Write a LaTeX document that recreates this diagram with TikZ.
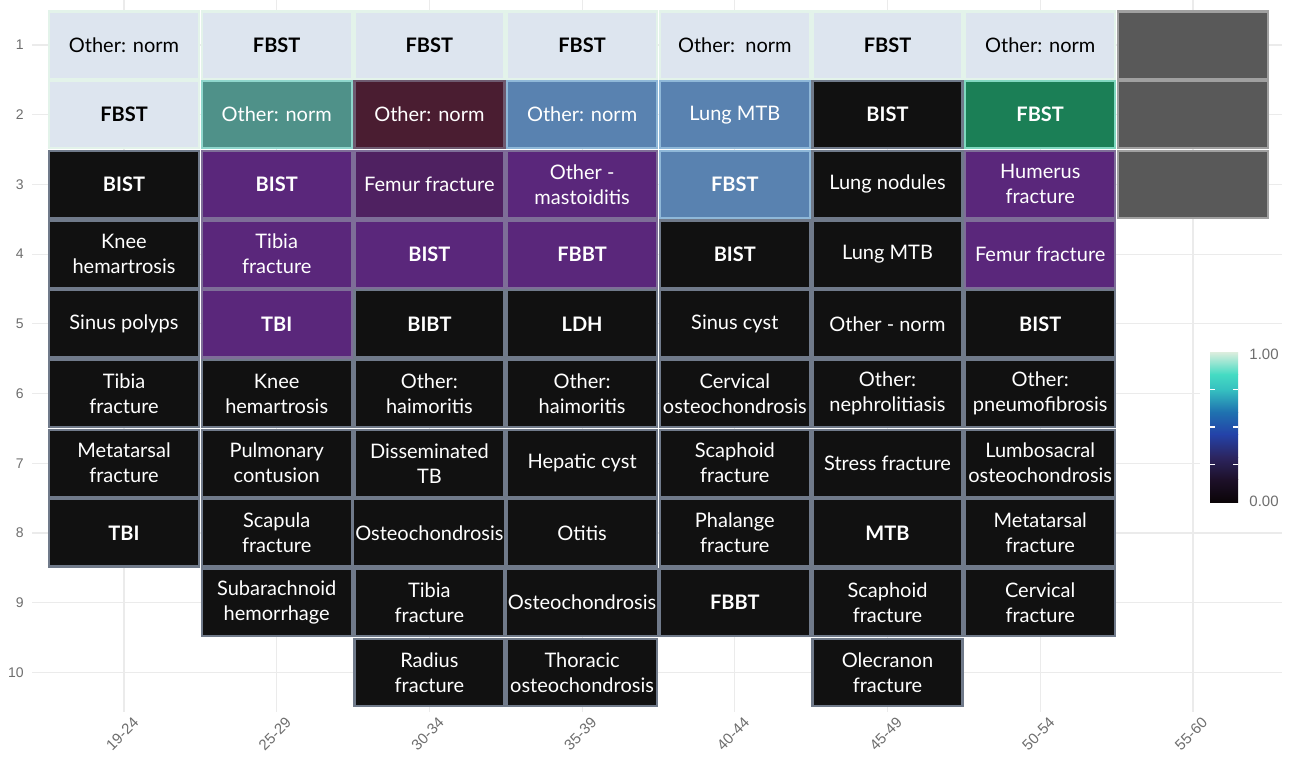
\documentclass[tikz,border=0pt]{standalone}
\usepackage{fontspec}
\setmainfont{Lato}
\setsansfont{Liberation Sans}
\definecolor{cLight}{HTML}{DDE5EF}
\definecolor{bLight}{HTML}{E3F3EA}
\definecolor{cTeal}{HTML}{4F9189}
\definecolor{bTeal}{HTML}{8FD6CC}
\definecolor{cMaroon}{HTML}{4A1D31}
\definecolor{bMaroon}{HTML}{6E5A70}
\definecolor{cSteel}{HTML}{5982B0}
\definecolor{bSteel}{HTML}{8FB8D8}
\definecolor{cBlack}{HTML}{111111}
\definecolor{bBlack}{HTML}{707A8A}
\definecolor{cGreen}{HTML}{1B7F56}
\definecolor{bGreen}{HTML}{80D8C0}
\definecolor{cPurple}{HTML}{5A277B}
\definecolor{bPurple}{HTML}{7E6E98}
\definecolor{cPlum}{HTML}{4F2161}
\definecolor{cGray}{HTML}{595959}
\definecolor{bGray}{HTML}{A0A0A0}
\definecolor{gridc}{HTML}{EBEBEB}
\definecolor{axc}{HTML}{6E6E6E}
\definecolor{s0}{HTML}{0B0508}
\definecolor{s1}{HTML}{1D1029}
\definecolor{s2}{HTML}{2C2560}
\definecolor{s3}{HTML}{2442A8}
\definecolor{s4}{HTML}{1F72B0}
\definecolor{s5}{HTML}{35C0C0}
\definecolor{s6}{HTML}{45DBC3}
\definecolor{s7}{HTML}{DDEEDE}
\newcommand\tile[4]{\node[tilebase,#3] (r#1c#2) at ({124+152.7*(#2-1)},{45+69.7*(#1-1)}) {#4};}
\begin{document}
\begin{tikzpicture}[x=0.5pt,y=-0.5pt,
  tilebase/.style={rectangle, minimum width=75pt, minimum height=33.6pt, inner sep=1pt,
    line width=1.1pt, align=center, font=\fontsize{10}{12.5}\selectfont, text=white},
  tLight/.style={fill=cLight, draw=bLight, text=black},
  tTeal/.style={fill=cTeal, draw=bTeal},
  tMaroon/.style={fill=cMaroon, draw=bMaroon},
  tSteel/.style={fill=cSteel, draw=bSteel},
  tBlack/.style={fill=cBlack, draw=bBlack},
  tGreen/.style={fill=cGreen, draw=bGreen},
  tPurple/.style={fill=cPurple, draw=bPurple},
  tPlum/.style={fill=cPlum, draw=bPurple},
  tGray/.style={fill=cGray, draw=bGray},
  gridline/.style={draw=gridc, line width=0.6pt},
  ylab/.style={font=\sffamily\fontsize{7}{8}\selectfont, text=axc, anchor=east, inner sep=0pt},
  xlab/.style={font=\sffamily\fontsize{7.5}{8}\selectfont, text=axc, rotate=45, anchor=north east, inner sep=0pt},
  leglab/.style={font=\sffamily\fontsize{7.5}{8}\selectfont, text=axc, anchor=west, inner sep=0pt},
  cbtick/.style={draw=white, line width=0.6pt}
]
\useasboundingbox (0,0) rectangle (1291,762);
\fill[white] (0,0) rectangle (1291,762);
% grid
\foreach \c in {1,...,8} \draw[gridline] ({124+152.7*(\c-1)},0) -- ({124+152.7*(\c-1)},712);
\foreach \r in {1,...,10} \draw[gridline] (32,{45+69.7*(\r-1)}) -- (1282,{45+69.7*(\r-1)});
% row 1
\tile{1}{1}{tLight}{Other: norm}
\tile{1}{2}{tLight}{\textbf{FBST}}
\tile{1}{3}{tLight}{\textbf{FBST}}
\tile{1}{4}{tLight}{\textbf{FBST}}
\tile{1}{5}{tLight}{Other:\ \ norm}
\tile{1}{6}{tLight}{\textbf{FBST}}
\tile{1}{7}{tLight}{Other: norm}
\tile{1}{8}{tGray}{}
% row 2
\tile{2}{1}{tLight}{\textbf{FBST}}
\tile{2}{2}{tTeal}{Other: norm}
\tile{2}{3}{tMaroon}{Other: norm}
\tile{2}{4}{tSteel}{Other: norm}
\tile{2}{5}{tSteel}{Lung MTB}
\tile{2}{6}{tBlack}{\textbf{BIST}}
\tile{2}{7}{tGreen}{\textbf{FBST}}
\tile{2}{8}{tGray}{}
% row 3
\tile{3}{1}{tBlack}{\textbf{BIST}}
\tile{3}{2}{tPurple}{\textbf{BIST}}
\tile{3}{3}{tPlum}{Femur fracture}
\tile{3}{4}{tPurple}{Other -\\mastoiditis}
\tile{3}{5}{tSteel}{\textbf{FBST}}
\tile{3}{6}{tBlack}{Lung nodules}
\tile{3}{7}{tPurple}{Humerus\\fracture}
\tile{3}{8}{tGray}{}
% row 4
\tile{4}{1}{tBlack}{Knee\\hemartrosis}
\tile{4}{2}{tPurple}{Tibia\\fracture}
\tile{4}{3}{tPurple}{\textbf{BIST}}
\tile{4}{4}{tPurple}{\textbf{FBBT}}
\tile{4}{5}{tBlack}{\textbf{BIST}}
\tile{4}{6}{tBlack}{Lung MTB}
\tile{4}{7}{tPurple}{Femur fracture}
% row 5
\tile{5}{1}{tBlack}{Sinus polyps}
\tile{5}{2}{tPurple}{\textbf{TBI}}
\tile{5}{3}{tBlack}{\textbf{BIBT}}
\tile{5}{4}{tBlack}{\textbf{LDH}}
\tile{5}{5}{tBlack}{Sinus cyst}
\tile{5}{6}{tBlack}{Other - norm}
\tile{5}{7}{tBlack}{\textbf{BIST}}
% row 6
\tile{6}{1}{tBlack}{Tibia\\fracture}
\tile{6}{2}{tBlack}{Knee\\hemartrosis}
\tile{6}{3}{tBlack}{Other:\\haimoritis}
\tile{6}{4}{tBlack}{Other:\\haimoritis}
\tile{6}{5}{tBlack}{Cervical\\osteochondrosis}
\tile{6}{6}{tBlack}{Other:\\nephrolitiasis}
\tile{6}{7}{tBlack}{Other:\\pneumofibrosis}
% row 7
\tile{7}{1}{tBlack}{Metatarsal\\fracture}
\tile{7}{2}{tBlack}{Pulmonary\\contusion}
\tile{7}{3}{tBlack}{Disseminated\\TB}
\tile{7}{4}{tBlack}{Hepatic cyst}
\tile{7}{5}{tBlack}{Scaphoid\\fracture}
\tile{7}{6}{tBlack}{Stress fracture}
\tile{7}{7}{tBlack}{Lumbosacral\\osteochondrosis}
% row 8
\tile{8}{1}{tBlack}{\textbf{TBI}}
\tile{8}{2}{tBlack}{Scapula\\fracture}
\tile{8}{3}{tBlack}{Osteochondrosis}
\tile{8}{4}{tBlack}{Otitis}
\tile{8}{5}{tBlack}{Phalange\\fracture}
\tile{8}{6}{tBlack}{\textbf{MTB}}
\tile{8}{7}{tBlack}{Metatarsal\\fracture}
% row 9
\tile{9}{2}{tBlack}{Subarachnoid\\hemorrhage}
\tile{9}{3}{tBlack}{Tibia\\fracture}
\tile{9}{4}{tBlack}{Osteochondrosis}
\tile{9}{5}{tBlack}{\textbf{FBBT}}
\tile{9}{6}{tBlack}{Scaphoid\\fracture}
\tile{9}{7}{tBlack}{Cervical\\fracture}
% row 10
\tile{10}{3}{tBlack}{Radius\\fracture}
\tile{10}{4}{tBlack}{Thoracic\\osteochondrosis}
\tile{10}{6}{tBlack}{Olecranon\\fracture}
% axis labels
\foreach \r in {1,...,10} \node[ylab] (yl\r) at (24,{45+69.7*(\r-1)}) {\r};
\foreach \c/\t in {1/19-24,2/25-29,3/30-34,4/35-39,5/40-44,6/45-49,7/50-54,8/55-60}
  \node[xlab] (xl\c) at ({124+152.7*(\c-1)+8},716) {\t};
% legend
\fill[white] (1200,338) rectangle (1291,518);
\draw[gridline] (1192.9,338) -- (1192.9,518);
\shade[top color=s7, bottom color=s6] (1210,352) rectangle (1238,374.5);
\shade[top color=s6, bottom color=s5] (1210,374.5) rectangle (1238,389.5);
\shade[top color=s5, bottom color=s4] (1210,389.5) rectangle (1238,412);
\shade[top color=s4, bottom color=s3] (1210,412) rectangle (1238,434.5);
\shade[top color=s3, bottom color=s2] (1210,434.5) rectangle (1238,457);
\shade[top color=s2, bottom color=s1] (1210,457) rectangle (1238,479.5);
\shade[top color=s1, bottom color=s0] (1210,479.5) rectangle (1238,502);
\foreach \f in {0.25,0.5,0.75} {
  \draw[cbtick] (1210,{502-150*\f}) -- (1215,{502-150*\f});
  \draw[cbtick] (1233,{502-150*\f}) -- (1238,{502-150*\f});
}
\node[leglab] (lg1) at (1249,354) {1.00};
\node[leglab] (lg0) at (1249,501) {0.00};
\end{tikzpicture}
\end{document}
